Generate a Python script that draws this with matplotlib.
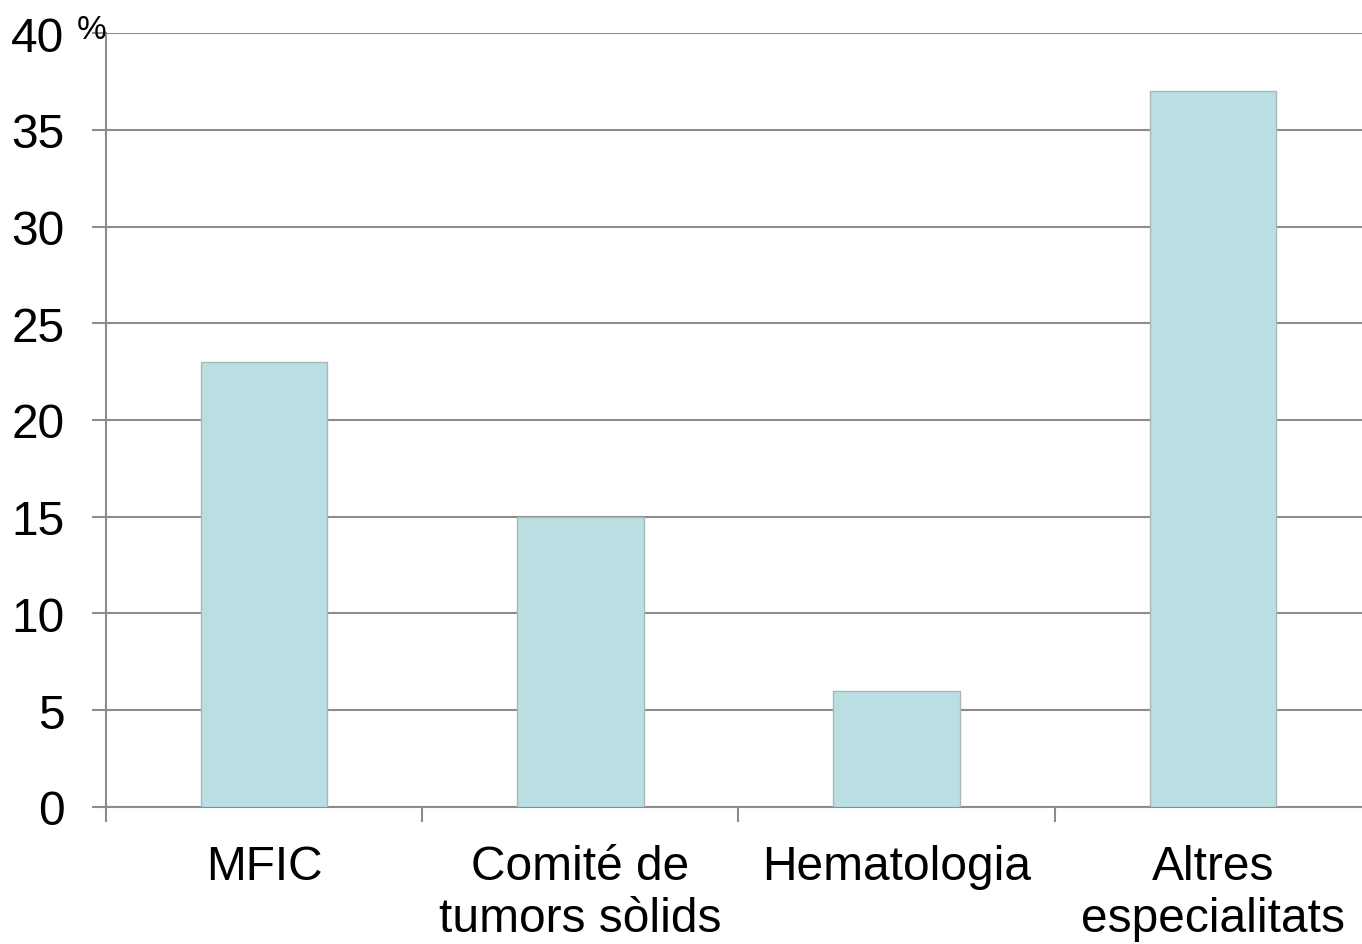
import matplotlib
matplotlib.use("Agg")
import matplotlib.pyplot as plt

categories = ["MFIC", "Comité de\ntumors sòlids", "Hematologia", "Altres\nespecialitats"]
values = [23, 15, 6, 37]
yticks = [0, 5, 10, 15, 20, 25, 30, 35, 40]

plt.rcParams["font.family"] = ["Liberation Sans", "DejaVu Sans"]

fig = plt.figure(figsize=(13.62, 9.45), dpi=100)
ax = fig.add_axes([0.0778, 0.145, 0.9288, 0.819])

x = list(range(len(categories)))
ax.bar(x, values, width=0.4, color="#badfe2", edgecolor="#a9b9bb",
       linewidth=1.0, zorder=3)

ax.set_xlim(-0.5, len(categories) - 0.5)
ax.set_ylim(0, 40)
ax.set_yticks(yticks)
ax.set_yticklabels([str(v) for v in yticks])
ax.yaxis.grid(True, color="#8c8c8c", linewidth=1.5, zorder=0)
ax.set_axisbelow(True)

# category labels sit between boundary ticks
ax.set_xticks([i - 0.5 for i in x])
ax.set_xticklabels([])
ax.set_xticks(x, minor=True)
ax.set_xticklabels(categories, minor=True, fontsize=34.5, linespacing=1.18)
ax.tick_params(axis="x", which="minor", length=0, pad=27)
ax.tick_params(axis="x", which="major", length=11, width=1.5, color="#8c8c8c",
               direction="out")
ax.tick_params(axis="y", length=10, width=1.5, color="#8c8c8c", pad=20,
               labelsize=34.5, direction="out")

for side in ["top", "right"]:
    ax.spines[side].set_visible(False)
for side in ["left", "bottom"]:
    ax.spines[side].set_color("#8c8c8c")
    ax.spines[side].set_linewidth(1.5)

fig.text(0.0565, 0.959, "%", fontsize=24, ha="left", va="baseline")

fig.savefig("out.png", dpi=100)
